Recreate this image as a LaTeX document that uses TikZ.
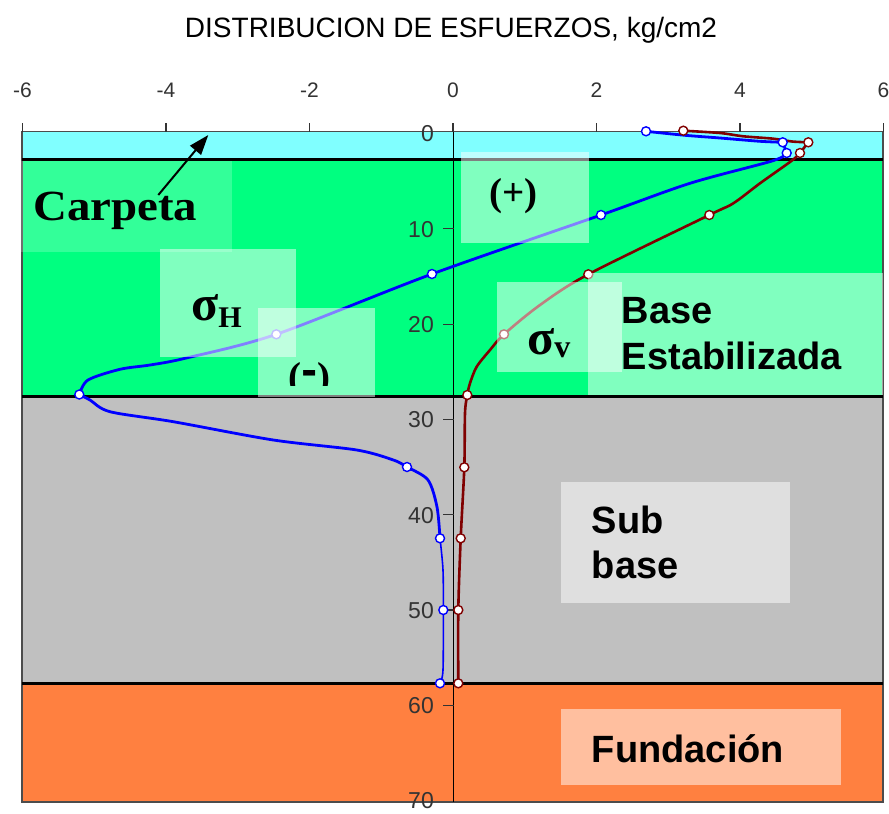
\documentclass[tikz,border=0pt]{standalone}
\usepackage{fontspec}
\setmainfont{Liberation Serif}
\setsansfont{Liberation Sans}
\newfontfamily\dejavu{DejaVu Sans}
\usetikzlibrary{arrows.meta}
\newcommand{\myfs}[1]{\fontsize{#1}{#1}\selectfont}
\definecolor{laycyan}{HTML}{80FFFF}
\definecolor{laygreen}{HTML}{00FF80}
\definecolor{laygray}{HTML}{C0C0C0}
\definecolor{layorange}{HTML}{FF8040}
\definecolor{sigred}{HTML}{800000}
\definecolor{axisgray}{HTML}{333333}
\begin{document}
\begin{tikzpicture}[x=1pt,y=-1pt,
  layerline/.style={line width=3pt, black},
  lbox/.style={fill=white, fill opacity=0.5, draw=none},
  mkb/.style={circle, draw=blue, fill=white, line width=1.4pt, inner sep=0pt, minimum size=9pt},
  mkr/.style={circle, draw=sigred, fill=white, line width=1.4pt, inner sep=0pt, minimum size=9pt},
  bluecurve/.style={blue, line width=2.8pt, line join=round},
  redcurve/.style={sigred, line width=2.6pt, line join=round},
  ticklab/.style={font=\sffamily\myfs{21}, text=axisgray, inner sep=0pt, anchor=base},
  depthlab/.style={font=\sffamily\myfs{23}, text=axisgray, inner sep=0pt, anchor=base east},
  bigsans/.style={font=\sffamily\bfseries\myfs{38}, inner sep=0pt, anchor=base west},
  serifbold/.style={font=\bfseries, inner sep=0pt, anchor=base west}]
\useasboundingbox (0,0) rectangle (889,814);

% layers
\fill[laycyan] (22,131.5) rectangle (883,159.7);
\fill[laygreen] (22,159.7) rectangle (883,396.7);
\fill[laygray] (22,396.7) rectangle (883,683.3);
\fill[layorange] (22,683.3) rectangle (883,802);

% frame
\draw[line width=1.3pt, black!70] (22,131.5) rectangle (883,802);
\draw[layerline] (22,159.7) -- (883,159.7);
\draw[layerline] (22,396.7) -- (883,396.7);
\draw[layerline] (22,683.3) -- (883,683.3);

% axes
\draw[line width=1.2pt] (453.5,123) -- (453.5,802);
\foreach \k [count=\i] in {-6,-4,...,6} {
  \draw[line width=1.1pt, black!80] (453+71.75*\k,123) -- (453+71.75*\k,131.5);
  \node[ticklab] (xt\i) at (453+71.75*\k,97.3) {\k};
}
\foreach \d [count=\i] in {10,20,...,60} {
  \draw[line width=1.1pt, black!80] (443,133.5+9.53*\d) -- (453.5,133.5+9.53*\d);
}
\foreach \d [count=\i] in {0,10,...,70} {
  \node[depthlab] (yt\i) at (434,133.5+9.53*\d+8.3) {\d};
}

% data points
\coordinate (b0) at (646,131.3);
\coordinate (b1) at (782.7,142.3);
\coordinate (b2) at (786.7,153);
\coordinate (b3) at (601,215);
\coordinate (b4) at (432,274);
\coordinate (b5) at (276.3,334.3);
\coordinate (b6) at (79.3,394.5);
\coordinate (b7) at (407,467);
\coordinate (b8) at (440,538.3);
\coordinate (b9) at (443.3,610);
\coordinate (b10) at (440,683.3);
\coordinate (r0) at (683.3,130.7);
\coordinate (r1) at (808.3,142.3);
\coordinate (r2) at (800,153);
\coordinate (r3) at (709.3,215);
\coordinate (r4) at (588.3,274.3);
\coordinate (r5) at (504,334.3);
\coordinate (r6) at (467.3,395);
\coordinate (r7) at (464.3,467.3);
\coordinate (r8) at (460.7,538.3);
\coordinate (r9) at (458.3,610);
\coordinate (r10) at (458.3,683.3);

% sigma V curve
\draw[redcurve] plot[smooth, tension=0.5] coordinates {(r0) (720,133) (743.3,136.3) (773.3,138.7) (792,141.5) (r1)};
\draw[redcurve] (r1) -- (r2);
\draw[redcurve] plot[smooth, tension=0.5] coordinates {(r2) (791.7,160.7) (760,183.3) (733.3,203.3) (r3) (r4) (540,305) (r5) (490,350) (476.7,366.7) (470,383.3) (r6) (465,413) (r7) (r8) (r9) (r10)};

% sigma H curve
\draw[bluecurve] plot[smooth, tension=0.5] coordinates {(b0) (685,135.3) (720,138) (760,141.3) (b1)};
\draw[bluecurve] (b1) -- (b2);
\draw[bluecurve] plot[smooth, tension=0.5] coordinates {(b2) (773,160.7) (690,183.3) (b3) (b4) (b5) (185,358.3) (150,365) (120,369.3) (88,380) (b6)};
\draw[bluecurve] plot[smooth, tension=0.5] coordinates {(b6) (90,400) (110,411.7) (173.3,421.7) (273.3,440) (356.7,450) (393.3,460) (b7) (428,480) (437,507) (b8)};
\draw[blue, line width=1.6pt] plot[smooth, tension=0.5] coordinates {(b8) (443,570) (b9) (443,670) (b10)};

% markers
\foreach \p [count=\i] in {b0,b1,b2,b3,b4,b5,b6,b7,b8,b9,b10} {
  \node[mkb] (mb\i) at (\p) {};
}
\foreach \p [count=\i] in {r0,r1,r2,r3,r4,r5,r6,r7,r8,r9,r10} {
  \node[mkr] (mr\i) at (\p) {};
}

% translucent label boxes
\fill[white, fill opacity=0.2] (20.7,160.5) rectangle (232.3,251.7);
\fill[lbox] (160,249.3) rectangle (296,357.3);
\fill[lbox] (258.3,307.7) rectangle (375,396.7);
\fill[lbox] (460.7,152.3) rectangle (589.3,242.7);
\fill[lbox] (497.3,282.3) rectangle (621.7,372.3);
\fill[lbox] (588.3,273.3) rectangle (883,394.5);
\fill[lbox] (560.7,482.3) rectangle (790,603.3);
\fill[lbox] (560.7,709.3) rectangle (841,785);

% texts
\node[anchor=base, font=\sffamily\myfs{28}, inner sep=0pt] (title) at (451,37) {DISTRIBUCION DE ESFUERZOS, kg/cm2};
\node[serifbold, font=\bfseries\myfs{43}, xscale=1.09] (carp) at (33,220) {Carpeta};
\node[serifbold] (sigh) at (191,320) {\myfs{50}σ\myfs{30}\raisebox{-7pt}{H}};
\node[serifbold] (sigv) at (527,354) {\myfs{50}σ\myfs{32}\raisebox{-3pt}{v}};
\node[serifbold, font=\bfseries\myfs{39}] (plus) at (489,205) {(+)};
\begin{scope}
  \clip (250,300) rectangle (380,385.5);
  \node[serifbold, font=\bfseries\myfs{39}] (minus) at (288,389) {(\raisebox{5pt}{\dejavu\bfseries -})};
\end{scope}
\node[bigsans] (base1) at (621.7,323.3) {Base};
\node[bigsans] (base2) at (621.7,369.3) {Estabilizada};
\node[bigsans] (sub1) at (591.7,533.3) {Sub};
\node[bigsans] (sub2) at (591.7,578.3) {base};
\node[bigsans] (fund) at (591.7,762.3) {Fundación};

% arrow to carpeta layer
\coordinate (arrS) at (158.3,195);
\coordinate (arrE) at (208.3,135);
\draw[line width=2pt, -{Triangle[length=20pt,width=14pt]}] (arrS) -- (arrE);
\end{tikzpicture}
\end{document}
